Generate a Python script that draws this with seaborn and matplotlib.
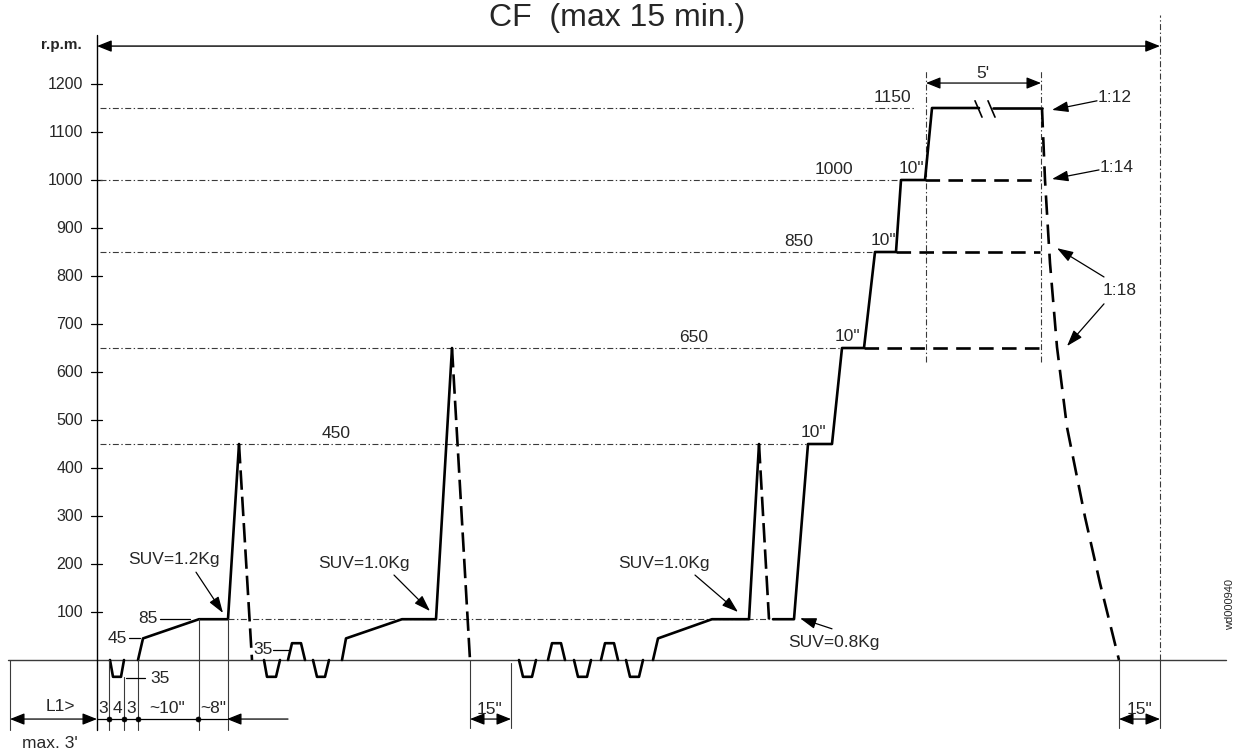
import matplotlib
matplotlib.use("Agg")
import matplotlib.pyplot as plt
from matplotlib.patches import ArrowStyle
import pandas as pd
import seaborn as sns

# ---------------------------------------------------------------- data
# time axis in arbitrary drawing units, speed in r.p.m.
tick_values = [100, 200, 300, 400, 500, 600, 700, 800, 900, 1000, 1100, 1200]

# short jog pulses around the zero line (trapezoids)
pulse_t = [
    [110, 113, 121, 124],
    [264, 267, 276, 280],
    [288, 292, 301, 305],
    [313, 317, 325, 329],
    [519, 523, 532, 536],
    [548, 552, 561, 565],
    [574, 578, 587, 591],
    [601, 605, 614, 618],
    [626, 630, 639, 643],
]
pulse_level = [-35, -35, 35, -35, -35, 35, -35, 35, -35]

# loading ramps 45 -> 85 -> spin-up
load_t = [[138, 143, 199, 228, 239],
          [342, 346, 402, 436, 452],
          [653, 658, 712, 749, 759]]
load_rpm = [[0, 45, 85, 85, 450],
            [0, 45, 85, 85, 650],
            [0, 45, 85, 85, 450]]

# final staircase up to the top speed (plateau broken by //)
stair_t = [773, 794, 808, 832, 842, 864, 875, 896, 901, 925, 932, 979]
stair_rpm = [85, 85, 450, 450, 650, 650, 850, 850, 1000, 1000, 1150, 1150]
top_tail_t = [993, 1042]
top_tail_rpm = [1150, 1150]

# braking after each spike (dashed)
brake_t = [[239, 252], [452, 470], [759, 769]]
brake_rpm = [[450, 0], [650, 0], [450, 85]]

# final run-down curve
decay_t = [1042, 1045, 1050, 1057, 1067, 1085, 1100, 1119]
decay_rpm = [1150, 1000, 827, 652, 485, 298, 160, 0]

# alternative plateaus for lower maximum speeds
alt_levels = [1000, 850, 650]
alt_start = [925, 896, 864]
alt_stop = 1040

# dash-dot reference levels
ref_levels = [1150, 1000, 850, 650, 450]
ref_stop = [915, 897, 872, 840, 806]
ref_label = ["1150", "1000", "850", "650", "450"]
ref_label_t = [892, 834, 799, 694, 336]
step_label_t = [813, 847, 883, 911]
step_label_rpm = [450, 650, 850, 1000]

suv_text = ["SUV=1.2Kg", "SUV=1.0Kg", "SUV=1.0Kg", "SUV=0.8Kg"]

# ---------------------------------------------------------------- frames
rows = []
seg = 0
for t, lev in zip(pulse_t, pulse_level):
    for ti, ri in zip(t, [0, lev, lev, 0]):
        rows.append((seg, ti, ri))
    seg += 1
for t, r in zip(load_t, load_rpm):
    for ti, ri in zip(t, r):
        rows.append((seg, ti, ri))
    seg += 1
for t, r in [(stair_t, stair_rpm), (top_tail_t, top_tail_rpm)]:
    for ti, ri in zip(t, r):
        rows.append((seg, ti, ri))
    seg += 1
solid = pd.DataFrame(rows, columns=["seg", "t", "rpm"])

rows = []
for k, (t, r) in enumerate(zip(brake_t, brake_rpm)):
    for ti, ri in zip(t, r):
        rows.append((k, ti, ri))
brake = pd.DataFrame(rows, columns=["seg", "t", "rpm"])
decay = pd.DataFrame({"t": decay_t, "rpm": decay_rpm})

rows = []
for k, (lev, t0) in enumerate(zip(alt_levels, alt_start)):
    rows += [(k, t0, lev), (k, alt_stop, lev)]
alt = pd.DataFrame(rows, columns=["seg", "t", "rpm"])

# ---------------------------------------------------------------- figure
sns.set_style("white")
plt.rcParams["font.family"] = ["Liberation Sans", "DejaVu Sans"]
plt.rcParams["lines.scale_dashes"] = False

fig = plt.figure(figsize=(12.39, 7.54), dpi=100)
ax = fig.add_axes([0, 0, 1, 1])

INK = "black"
THIN = "#3a3a3a"
DASHDOT = (0, (4.3, 1.8, 1.0, 1.8))
DIM_Y = -123
EXT_LOW = -146


def frame():
    ax.set_xlim(0, 1239)
    ax.set_ylim(-195.8, 1375)
    ax.axis("off")


frame()

# zero line and y axis
ax.plot([8, 1226], [0, 0], color=THIN, lw=1.0)
ax.plot([97, 97], [EXT_LOW, 1302], color=INK, lw=1.0)
for v in tick_values:
    ax.plot([91, 102], [v, v], color=INK, lw=0.9)
    ax.text(83, v, str(v), ha="right", va="center", fontsize=11.5)
ax.text(82, 1281, "r.p.m.", ha="right", va="center", fontsize=11,
        fontweight="bold")

# reference dash-dot levels
for lev, stop in zip(ref_levels, ref_stop):
    ax.plot([100, stop], [lev, lev], color=THIN, lw=0.8, linestyle=DASHDOT)
ax.plot([228, 773], [85, 85], color=THIN, lw=0.8, linestyle=DASHDOT)
ax.plot([926, 926], [621, 1229], color=THIN, lw=0.8, linestyle=DASHDOT)
ax.plot([1041, 1041], [621, 1229], color=THIN, lw=0.8, linestyle=DASHDOT)
ax.plot([1160, 1160], [0, 1344], color=THIN, lw=0.8, linestyle=DASHDOT)

# speed profile
sns.lineplot(data=solid, x="t", y="rpm", units="seg", estimator=None,
             sort=False, color=INK, linewidth=1.9, ax=ax, legend=False)
sns.lineplot(data=brake, x="t", y="rpm", units="seg", estimator=None,
             sort=False, color=INK, linewidth=1.9, ax=ax, legend=False,
             linestyle=(0, (14, 5)))
sns.lineplot(data=decay, x="t", y="rpm", estimator=None, sort=False,
             color=INK, linewidth=1.9, ax=ax, legend=False,
             linestyle=(0, (14, 7)))
sns.lineplot(data=alt, x="t", y="rpm", units="seg", estimator=None,
             sort=False, color=INK, linewidth=1.9, ax=ax, legend=False,
             linestyle=(0, (10.5, 6)))
frame()

# break marks on the top plateau
ax.plot([975, 982], [1165, 1131], color=INK, lw=1.2)
ax.plot([988, 995], [1165, 1131], color=INK, lw=1.2)

# extension lines below the zero line
for x, y0 in [(10, 0), (109, 0), (124, -35), (138, 0), (199, 85), (228, 85)]:
    ax.plot([x, x], [y0, EXT_LOW], color=THIN, lw=0.8)
for x, y0 in [(470, 0), (511, -6), (1119, 0), (1160, 0)]:
    ax.plot([x, x], [y0, -142], color=THIN, lw=0.8)


def arrow(x0, y0, x1, y1, style, lw=0.9, hl=0.8, hw=0.32):
    ax.annotate("", xy=(x1, y1), xytext=(x0, y0),
                arrowprops=dict(arrowstyle=ArrowStyle(style, head_length=hl,
                                                      head_width=hw),
                                color=INK, lw=lw, shrinkA=0, shrinkB=0,
                                mutation_scale=11))


# dimension arrows
arrow(97, 1279, 1160, 1279, "<|-|>", lw=1.0)
arrow(926, 1202, 1041, 1202, "<|-|>")
arrow(10, DIM_Y, 97, DIM_Y, "<|-|>")
ax.plot([97, 227], [DIM_Y, DIM_Y], color=INK, lw=0.9)
arrow(288, DIM_Y, 227, DIM_Y, "-|>")
arrow(470, DIM_Y, 511, DIM_Y, "<|-|>")
arrow(1119, DIM_Y, 1160, DIM_Y, "<|-|>")
sns.scatterplot(x=[109, 124, 138, 198], y=[DIM_Y] * 4, color=INK, s=14,
                edgecolor=INK, ax=ax, legend=False, zorder=5)
frame()

# texts
FS = 12.5
ax.text(617, 1337, "CF  (max 15 min.)", ha="center", va="center", fontsize=23)
for lab, t, lev in zip(ref_label, ref_label_t, ref_levels):
    ax.text(t, lev + 22, lab, ha="center", va="center", fontsize=FS)
for t, lev in zip(step_label_t, step_label_rpm):
    ax.text(t, lev + 23, '10"', ha="center", va="center", fontsize=FS)
ax.text(983, 1221, "5'", ha="center", va="center", fontsize=FS)

ax.text(1098, 1171, "1:12", ha="left", va="center", fontsize=FS)
arrow(1097, 1165, 1052, 1146, "-|>", hl=0.9, hw=0.3)
ax.text(1100, 1027, "1:14", ha="left", va="center", fontsize=FS)
arrow(1099, 1021, 1052, 1002, "-|>", hl=0.9, hw=0.3)
ax.text(1103, 769, "1:18", ha="left", va="center", fontsize=FS)
arrow(1104, 798, 1057, 858, "-|>", hl=0.9, hw=0.3)
arrow(1104, 742, 1067, 654, "-|>", hl=0.9, hw=0.3)

suv_pos = [(174, 210), (364, 202), (664, 202), (834, 37)]
suv_arrow = [((196, 183), (223, 98)), ((394, 177), (430, 102)),
             ((695, 177), (738, 100)), ((832, 65), (800, 87))]
for lab, (tx, ty), ((x0, y0), (x1, y1)) in zip(suv_text, suv_pos, suv_arrow):
    ax.text(tx, ty, lab, ha="center", va="center", fontsize=FS)
    arrow(x0, y0, x1, y1, "-|>", hl=0.9, hw=0.3)

ax.text(158, 87, "85", ha="right", va="center", fontsize=FS)
ax.plot([160, 190], [85, 85], color=INK, lw=0.9)
ax.text(127, 45, "45", ha="right", va="center", fontsize=FS)
ax.plot([129, 140], [45, 45], color=INK, lw=0.9)
ax.plot([126, 145], [-38, -38], color=INK, lw=0.9)
ax.text(150, -38, "35", ha="left", va="center", fontsize=FS)
ax.text(253, 21, "35", ha="left", va="center", fontsize=FS)
ax.plot([273, 290], [21, 21], color=INK, lw=0.9)

ax.text(60, -96, "L1>", ha="center", va="center", fontsize=FS)
for lab, t in zip(["3", "4", "3", '~10"', '~8"'], [103, 117, 131, 167, 213]):
    ax.text(t, -100, lab, ha="center", va="center", fontsize=FS)
ax.text(22, -173, "max. 3'", ha="left", va="center", fontsize=FS)
ax.text(490, -104, '15"', ha="center", va="center", fontsize=FS)
ax.text(1140, -104, '15"', ha="center", va="center", fontsize=FS)
ax.text(1230, 115, "wd000940", ha="center", va="center", fontsize=8,
        rotation=90)

fig.savefig("out.png", dpi=100)
